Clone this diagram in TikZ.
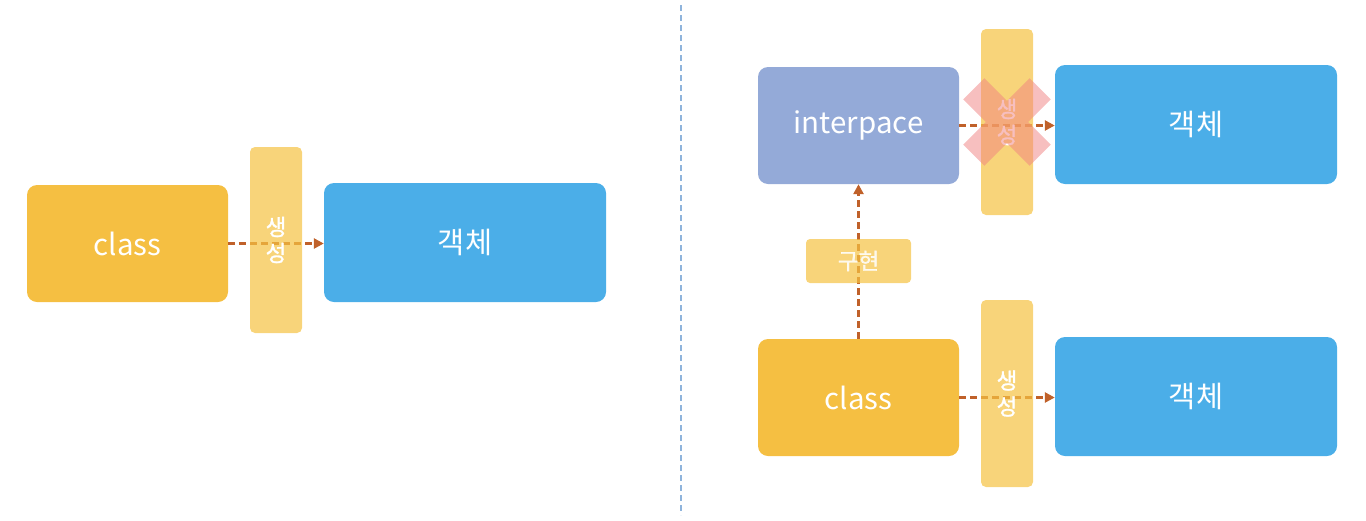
\documentclass[tikz,border=0pt]{standalone}
\usepackage{fontspec}
\setmainfont{Noto Sans CJK KR}
\newfontfamily\lblfont{Noto Sans CJK KR}[FakeBold=1.2]
\usetikzlibrary{arrows.meta}
\definecolor{clsc}{HTML}{F5BF42}
\definecolor{objc}{HTML}{4BAEE8}
\definecolor{ifc}{HTML}{94AAD8}
\definecolor{barc}{HTML}{F5C242}
\definecolor{arrc}{HTML}{C0612A}
\definecolor{divc}{HTML}{8FB4DC}
\definecolor{crossc}{HTML}{F08080}
\begin{document}
\begin{tikzpicture}[x=1pt,y=-1pt,
  bigbox/.style={rectangle, rounded corners=10pt, inner sep=0pt, text=white,
    font=\fontsize{29.5}{34}\selectfont},
  clsbox/.style={bigbox, fill=clsc, minimum width=201pt, minimum height=117pt},
  objbox/.style={bigbox, fill=objc, minimum width=282pt, minimum height=119pt},
  ifbox/.style={bigbox, fill=ifc, minimum width=201pt, minimum height=117pt},
  barbox/.style={rectangle, rounded corners=5pt, inner sep=0pt, fill=barc,
    fill opacity=0.7, text opacity=1, text=white, align=center,
    font=\lblfont\fontsize{22.5}{26}\selectfont, minimum width=52pt, minimum height=186pt},
  lblbox/.style={rectangle, rounded corners=4pt, inner sep=0pt, fill=barc,
    fill opacity=0.7, text opacity=0.85, text=white,
    font=\lblfont\fontsize{22.5}{26}\selectfont, minimum width=105pt, minimum height=44pt},
  darr/.style={draw=arrc, line width=2.5pt, dash pattern=on 7pt off 4pt,
    -{Triangle[length=10pt,width=10pt,fill=arrc]}},
]
\useasboundingbox (0,0) rectangle (1366,520);

% divider
\coordinate (dtop) at (681,5);
\coordinate (dbot) at (681,515);
\draw[divc, line width=1.3pt, dash pattern=on 6pt off 4pt] (dtop) -- (dbot);

% left diagram
\node[clsbox] (lcls) at (127.5,243.5) {class};
\node[objbox] (lobj) at (465,242.5) {객체};
\draw[darr] (lcls.east) -- (lcls.east -| lobj.west);
\node[barbox] (lbar) at (276,240) {생\\성};

% right diagram
\node[ifbox] (rif) at (858.5,125.5) {interpace};
\node[objbox] (robj1) at (1196,124.5) {객체};
\node[clsbox] (rcls) at (858.5,397.5) {class};
\node[objbox] (robj2) at (1196,396.5) {객체};

\draw[darr] (rif.east) -- (rif.east -| robj1.west);
\draw[darr] (rcls.east) -- (rcls.east -| robj2.west);
\draw[darr] (rcls.north) -- (rif.south);

\node[barbox] (rbar1) at (1007,122) {생\\성};
\node[barbox, minimum height=187pt] (rbar2) at (1007,393.5) {생\\성};
\node[lblbox] (impl) at (858.5,261) {구현};

% cross over the top label
\begin{scope}[shift={(1007,122)}]
  \fill[crossc, fill opacity=0.5, rotate=45]
    (-47,-15) rectangle (47,15) (-15,-47) rectangle (15,47);
\end{scope}
\end{tikzpicture}
\end{document}
